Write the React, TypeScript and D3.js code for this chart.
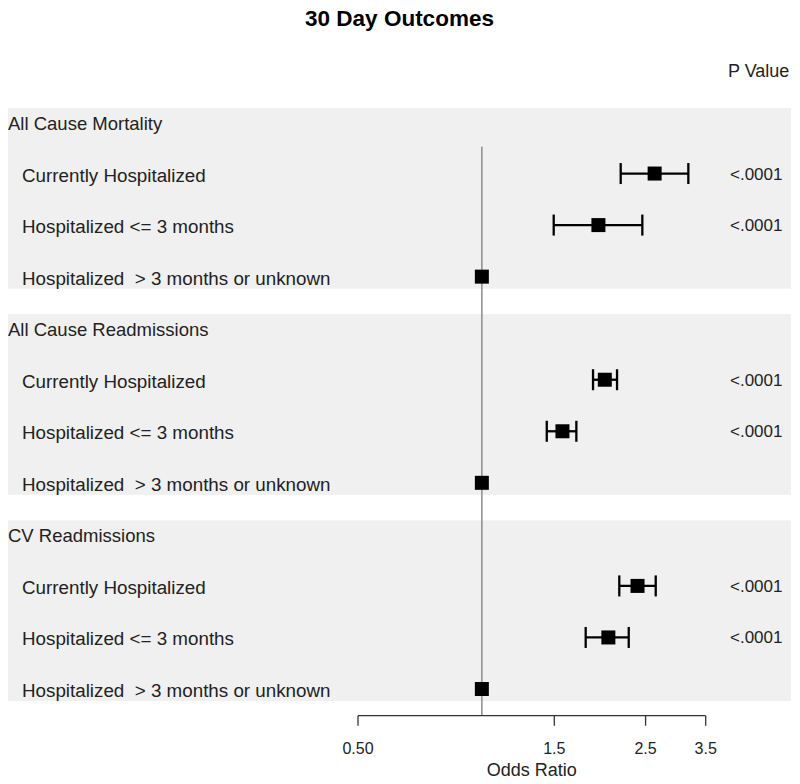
import React from "react";
import * as d3 from "d3";

const groups = ["All Cause Mortality", "All Cause Readmissions", "CV Readmissions"];
const subLabels = ["Currently Hospitalized", "Hospitalized <= 3 months", "Hospitalized  > 3 months or unknown"];
// odds ratio, lower CI, upper CI per group (3 rows each)
const orValues = [
  [2.63, 1.92, 1.0],
  [1.99, 1.57, 1.0],
  [2.39, 2.03, 1.0],
];
const lowerCI = [
  [2.175, 1.495, null],
  [1.863, 1.438, null],
  [2.158, 1.788, null],
];
const upperCI = [
  [3.176, 2.455, null],
  [2.131, 1.697, null],
  [2.646, 2.275, null],
];
const pValues = [
  ["<.0001", "<.0001", ""],
  ["<.0001", "<.0001", ""],
  ["<.0001", "<.0001", ""],
];
const tickValues = [0.5, 1.5, 2.5, 3.5];
const tickLabels = ["0.50", "1.5", "2.5", "3.5"];

const W = 800;
const H = 784;
const FONT = "'Liberation Sans', Arial, sans-serif";

export default function App() {
  const x = d3.scaleLog().domain([0.5, 3.5]).range([358, 705.7]);
  const nRows = groups.length * 4;
  const y = d3.scaleLinear().domain([0, nRows - 1]).range([123.5, 690.5]);
  const axisY = 715.7;

  const bands = groups.map((g, gi) => ({
    top: y(gi * 4) - 15.5,
    bottom: y(gi * 4 + 3) + 10.5,
  }));

  return (
    <svg width={W} height={H} style={{ position: "absolute", left: 0, top: 0 }} fontFamily={FONT}>
      <rect x={0} y={0} width={W} height={H} fill="#fff" />
      <text x={399.5} y={26} textAnchor="middle" fontWeight="bold" fontSize={22.5}>
        30 Day Outcomes
      </text>
      <text x={728} y={76.7} fontSize={18} fill="#222">
        P Value
      </text>
      {bands.map((b, i) => (
        <rect key={i} x={8} y={b.top} width={783} height={b.bottom - b.top} fill="#f0f0f0" />
      ))}
      {/* reference line */}
      <line x1={x(1)} x2={x(1)} y1={y(0.45)} y2={axisY} stroke="#8c8c8c" strokeWidth={1.5} />
      {groups.map((g, gi) => (
        <g key={g}>
          <text x={8} y={y(gi * 4) + 6.5} fontSize={18.5} fill="#222">
            {g}
          </text>
          {subLabels.map((s, si) => {
            const row = gi * 4 + si + 1;
            const cy = y(row);
            const or = orValues[gi][si];
            const lo = lowerCI[gi][si];
            const hi = upperCI[gi][si];
            const py = cy - 1.5;
            return (
              <g key={s}>
                <text x={22} y={cy + 6.5} fontSize={18.8} fill="#222" style={{ whiteSpace: "pre" }}>
                  {s}
                </text>
                {lo != null && hi != null && (
                  <g stroke="#000" strokeWidth={2.3}>
                    <line x1={x(lo)} x2={x(hi)} y1={py} y2={py} />
                    <line x1={x(lo)} x2={x(lo)} y1={py - 10.5} y2={py + 10.5} />
                    <line x1={x(hi)} x2={x(hi)} y1={py - 10.5} y2={py + 10.5} />
                  </g>
                )}
                <rect x={x(or) - 7} y={py - 7} width={14} height={14} fill="#000" />
                <text x={730} y={cy + 4.5} fontSize={17} fill="#222">
                  {pValues[gi][si]}
                </text>
              </g>
            );
          })}
        </g>
      ))}
      {/* axis */}
      <g stroke="#333" strokeWidth={1.3}>
        <line x1={x(tickValues[0])} x2={x(tickValues[tickValues.length - 1])} y1={axisY} y2={axisY} />
        {tickValues.map((t) => (
          <line key={t} x1={x(t)} x2={x(t)} y1={axisY} y2={axisY + 10} />
        ))}
      </g>
      {tickValues.map((t, i) => (
        <text key={t} x={x(t)} y={754} textAnchor="middle" fontSize={16} fill="#222">
          {tickLabels[i]}
        </text>
      ))}
      <text x={(x(0.5) + x(3.5)) / 2} y={776} textAnchor="middle" fontSize={18} fill="#222">
        Odds Ratio
      </text>
    </svg>
  );
}
